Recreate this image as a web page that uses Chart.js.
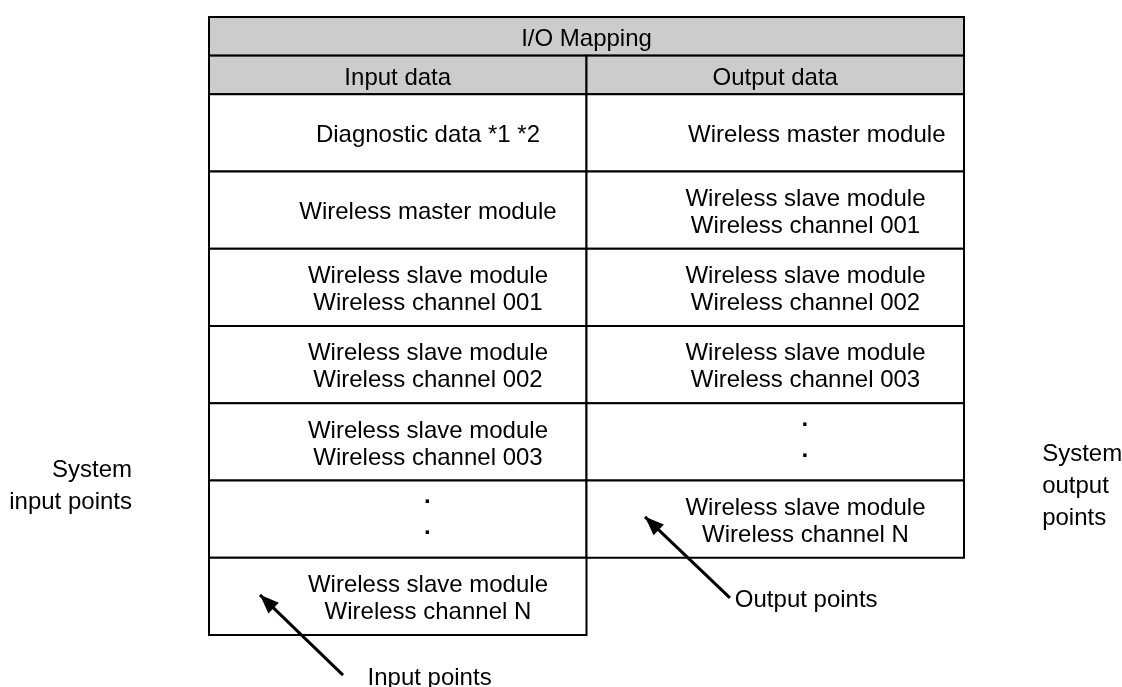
<!DOCTYPE html>
<html>
<head>
<meta charset="utf-8">
<script src="https://cdn.jsdelivr.net/npm/chart.js@4.4.0/dist/chart.umd.min.js"></script>
<style>
  html, body { margin: 0; padding: 0; background: #fff; }
  #wrap { width: 1122px; height: 687px; }
</style>
</head>
<body>
<div id="wrap"><canvas id="ioMap" width="1122" height="687"></canvas></div>
<script>
// Table contents
const tableTitle = 'I/O Mapping';
const columnHeaders = ['Input data', 'Output data'];
const inputRows = [
    ['Diagnostic data *1 *2'],
    ['Wireless master module'],
    ['Wireless slave module', 'Wireless channel 001'],
    ['Wireless slave module', 'Wireless channel 002'],
    ['Wireless slave module', 'Wireless channel 003'],
    ['·', '·'],
    ['Wireless slave module', 'Wireless channel N']
];
const outputRows = [
    ['Wireless master module'],
    ['Wireless slave module', 'Wireless channel 001'],
    ['Wireless slave module', 'Wireless channel 002'],
    ['Wireless slave module', 'Wireless channel 003'],
    ['·', '·'],
    ['Wireless slave module', 'Wireless channel N']
];
const sideLabels = [['System', 'input points'], ['System', 'output', 'points']];
const arrowLabels = ['Input points', 'Output points'];

// Annotation anchors, in grid units (x: column, y: row)
const inputArrow = [{ x: 0.355, y: 8.52 }, { x: 0.135, y: 7.48 }];
const outputArrow = [{ x: 1.38, y: 7.52 }, { x: 1.155, y: 6.47 }];
const inputShift = [0.08, 0.08, 0.08, 0.08, 0.08, 0.08, 0.08];
const outputShift = [0.11, 0.08, 0.08, 0.08, 0.08, 0.08];

const FONT = '24px "Liberation Sans", Arial, sans-serif';
const DOT_FONT = 'bold 24px "Liberation Sans", Arial, sans-serif';
const HEADER_FILL = '#cccccc';

// Build the list of cells from the arrays above
function buildCells() {
    const cells = [];
    cells.push({ x0: 0, x1: 2, y0: 0, y1: 0.5, fill: HEADER_FILL, lines: [tableTitle], shift: 0, head: true });
    columnHeaders.forEach((h, c) => {
        cells.push({ x0: c, x1: c + 1, y0: 0.5, y1: 1, fill: HEADER_FILL, lines: [h], shift: 0, head: true });
    });
    inputRows.forEach((lines, r) => {
        cells.push({ x0: 0, x1: 1, y0: 1 + r, y1: 2 + r, fill: '#ffffff', lines: lines, shift: inputShift[r] });
    });
    outputRows.forEach((lines, r) => {
        cells.push({ x0: 1, x1: 2, y0: 1 + r, y1: 2 + r, fill: '#ffffff', lines: lines, shift: outputShift[r] });
    });
    return cells;
}
const cells = buildCells();

function drawLines(ctx, lines, cx, cy, spacing, align) {
    ctx.textAlign = align || 'center';
    const n = lines.length;
    lines.forEach((t, i) => {
        ctx.fillText(t, cx, cy + (i - (n - 1) / 2) * spacing);
    });
}

const tablePlugin = {
    id: 'ioTable',
    beforeDraw(chart) {
        const ctx = chart.ctx;
        ctx.save();
        ctx.fillStyle = '#ffffff';
        ctx.fillRect(0, 0, chart.width, chart.height);
        ctx.restore();
    },
    beforeDatasetsDraw(chart) {
        const ctx = chart.ctx;
        const xs = chart.scales.x, ys = chart.scales.y;
        ctx.save();
        ctx.lineWidth = 2;
        ctx.strokeStyle = '#000000';
        cells.forEach(c => {
            const l = xs.getPixelForValue(c.x0), r = xs.getPixelForValue(c.x1);
            const t = ys.getPixelForValue(c.y0), b = ys.getPixelForValue(c.y1);
            ctx.fillStyle = c.fill;
            ctx.fillRect(l, t, r - l, b - t);
            ctx.strokeRect(l, t, r - l, b - t);
        });
        ctx.fillStyle = '#000000';
        ctx.textBaseline = 'middle';
        cells.forEach(c => {
            const cx = xs.getPixelForValue((c.x0 + c.x1) / 2 + c.shift);
            const cy = ys.getPixelForValue((c.y0 + c.y1) / 2);
            if (c.lines[0] === '·') {
                ctx.font = DOT_FONT;
                drawLines(ctx, c.lines, cx, cy - 1, 31);
            } else {
                ctx.font = FONT;
                drawLines(ctx, c.lines, cx, cy + (c.head ? 3.5 : 2.5), 27);
            }
        });
        ctx.font = FONT;
        // side labels
        drawLines(ctx, sideLabels[0], xs.getPixelForValue(-0.204), ys.getPixelForValue(6.07), 32, 'right');
        drawLines(ctx, sideLabels[1], xs.getPixelForValue(2.207), ys.getPixelForValue(6.08), 32, 'left');
        // arrow labels
        drawLines(ctx, [arrowLabels[0]], xs.getPixelForValue(0.42), ys.getPixelForValue(8.56), 27, 'left');
        drawLines(ctx, [arrowLabels[1]], xs.getPixelForValue(1.393), ys.getPixelForValue(7.55), 27, 'left');
        ctx.restore();
    },
    afterDatasetsDraw(chart) {
        const ctx = chart.ctx;
        ctx.save();
        ctx.fillStyle = '#000000';
        chart.data.datasets.forEach((ds, i) => {
            const pts = chart.getDatasetMeta(i).data;
            const a = pts[0], b = pts[pts.length - 1];
            const ang = Math.atan2(b.y - a.y, b.x - a.x);
            const len = 19, half = 7.5;
            ctx.beginPath();
            ctx.moveTo(b.x, b.y);
            ctx.lineTo(b.x - len * Math.cos(ang) + half * Math.sin(ang), b.y - len * Math.sin(ang) - half * Math.cos(ang));
            ctx.lineTo(b.x - len * Math.cos(ang) - half * Math.sin(ang), b.y - len * Math.sin(ang) + half * Math.cos(ang));
            ctx.closePath();
            ctx.fill();
        });
        ctx.restore();
    }
};

const arrowStyle = {
    showLine: true,
    borderColor: '#000000',
    borderWidth: 3,
    pointRadius: 0,
    clip: false
};

new Chart(document.getElementById('ioMap'), {
    type: 'scatter',
    data: {
        datasets: [
            Object.assign({ label: arrowLabels[0], data: inputArrow }, arrowStyle),
            Object.assign({ label: arrowLabels[1], data: outputArrow }, arrowStyle)
        ]
    },
    options: {
        responsive: false,
        animation: false,
        devicePixelRatio: 1,
        layout: { padding: { left: 209, right: 158, top: 17, bottom: 52 } },
        plugins: { legend: { display: false }, tooltip: { enabled: false } },
        scales: {
            x: { type: 'linear', min: 0, max: 2, display: false },
            y: { type: 'linear', min: 0, max: 8, reverse: true, display: false }
        }
    },
    plugins: [tablePlugin]
});
</script>
</body>
</html>
